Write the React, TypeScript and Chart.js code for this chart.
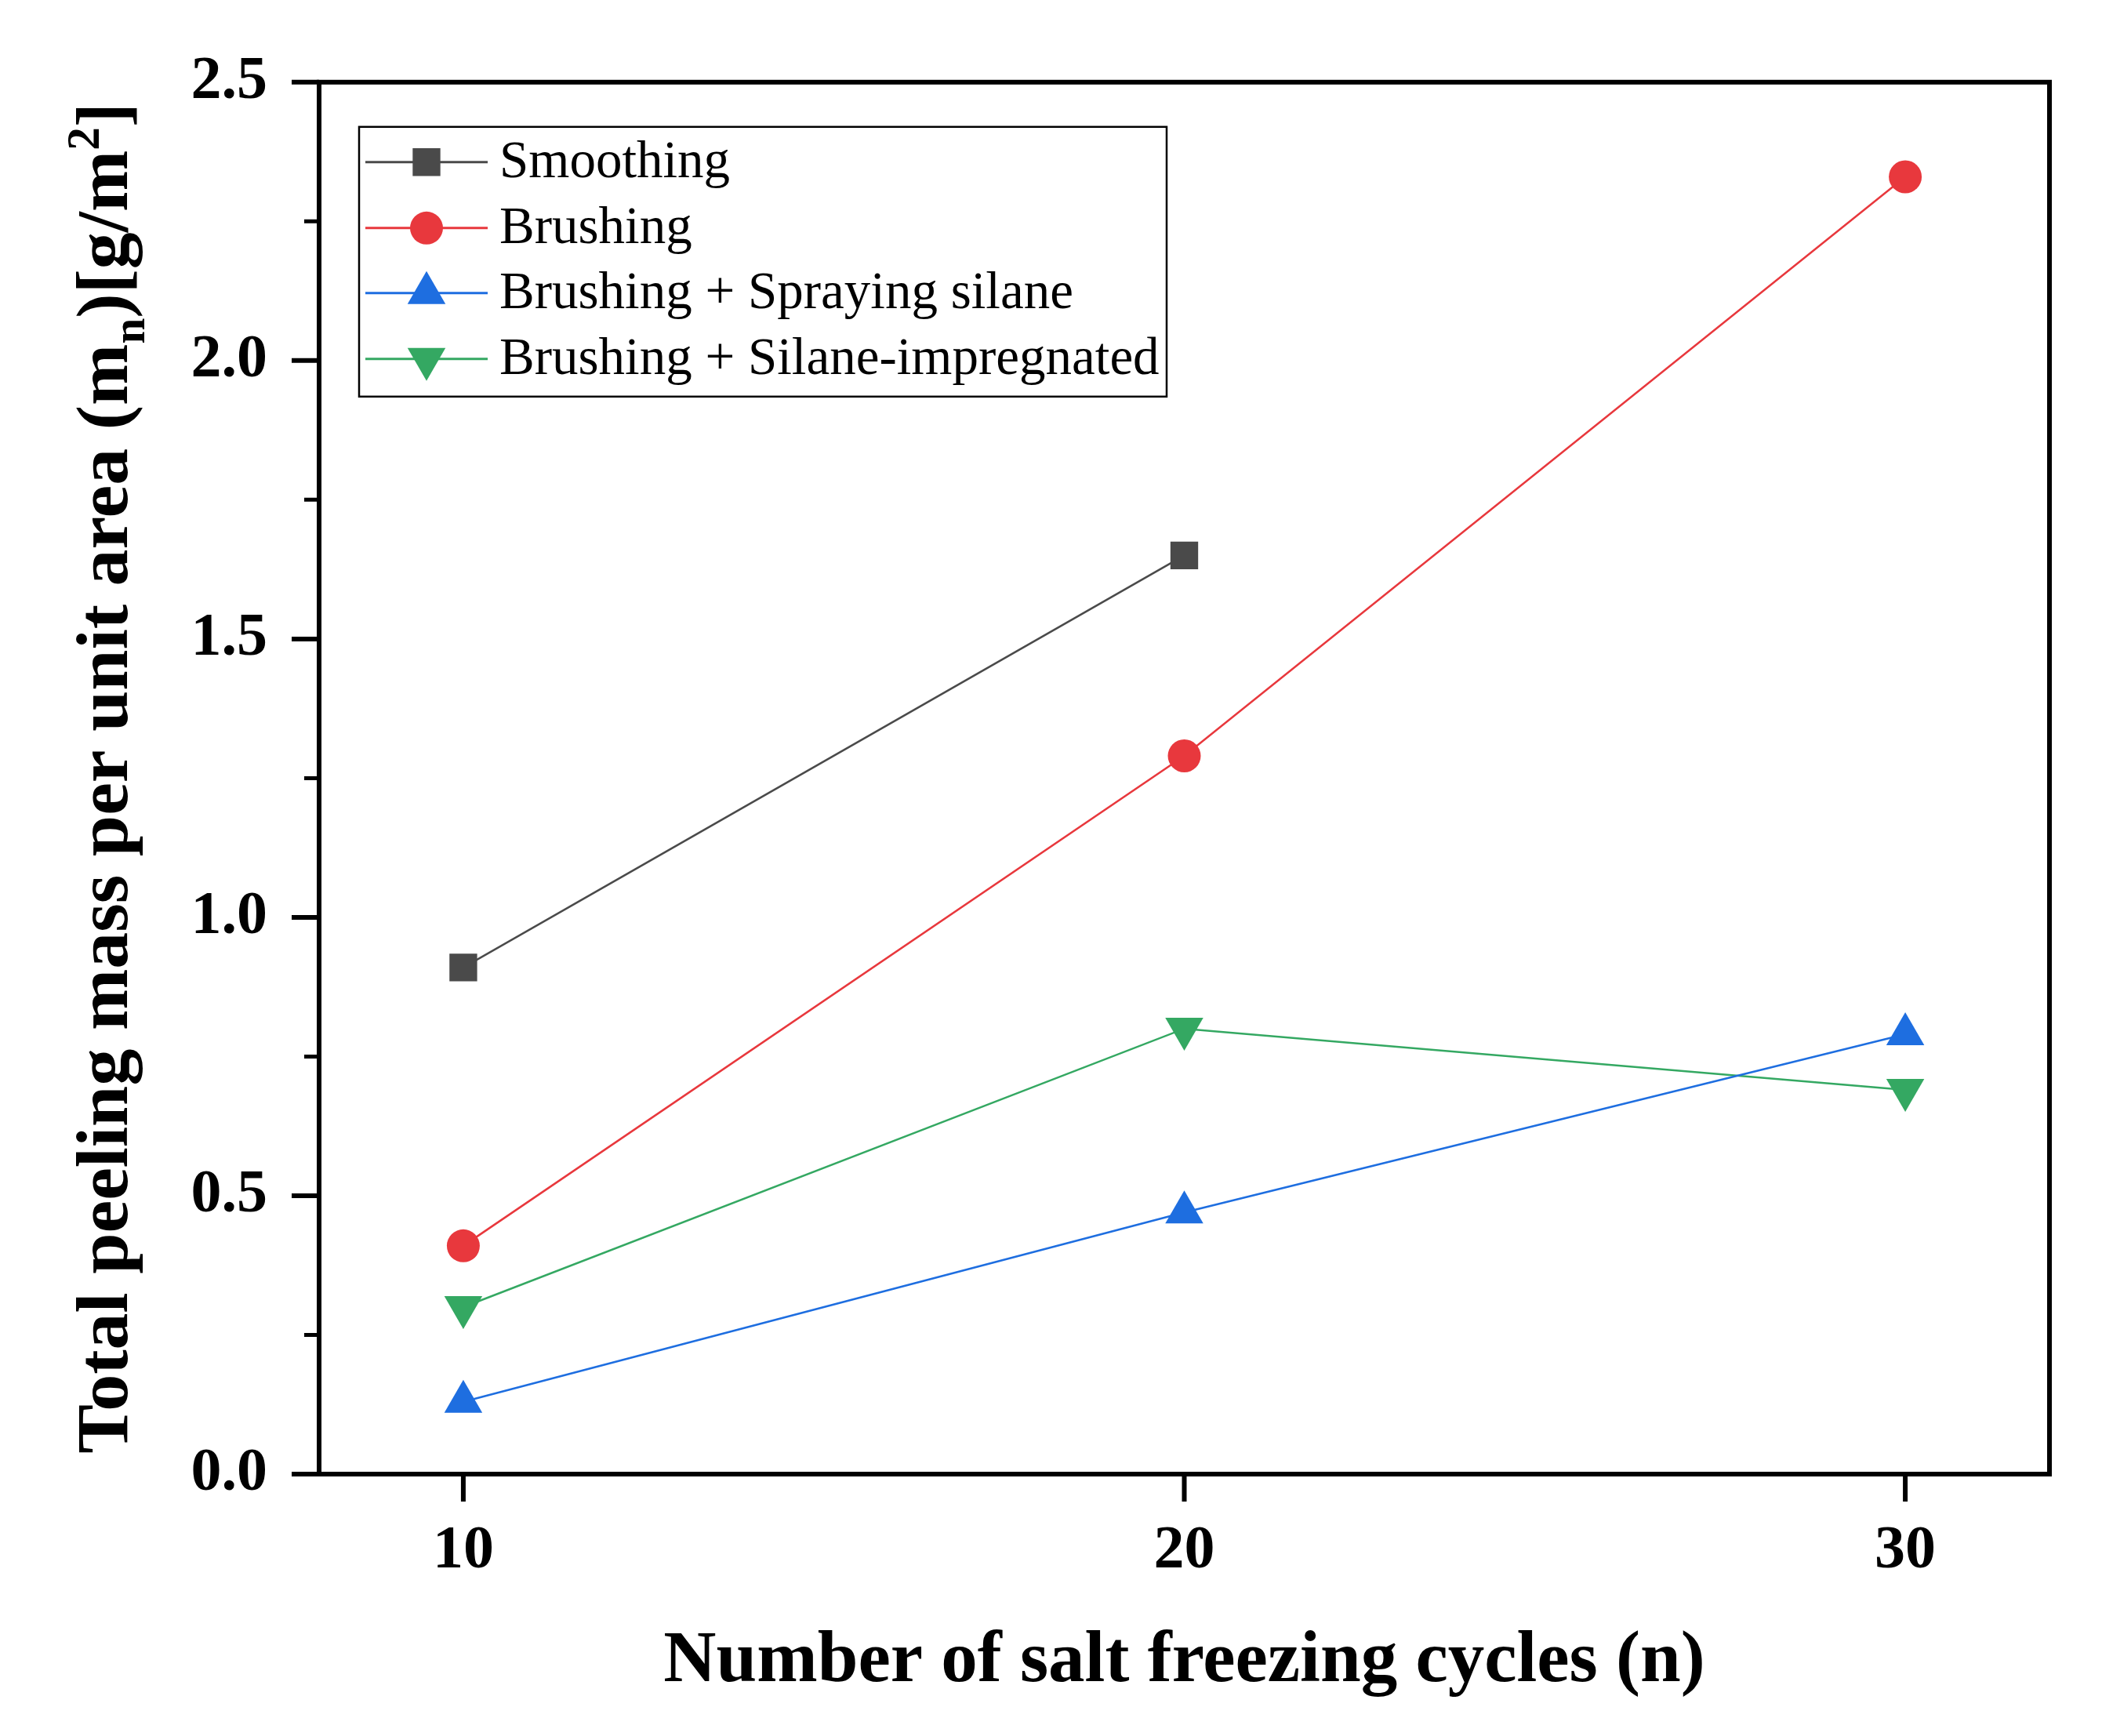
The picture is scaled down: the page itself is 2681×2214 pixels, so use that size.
import React, { useEffect, useRef } from 'react';
import { Chart, registerables } from 'chart.js';

Chart.register(...registerables);

// ---- data ----
const cycles = [10, 20, 30];
const seriesLabels = [
  'Smoothing',
  'Brushing',
  'Brushing + Spraying silane',
  'Brushing + Silane-impregnated',
];
const smoothing: (number | null)[] = [0.91, 1.65, null];
const brushing: (number | null)[] = [0.41, 1.29, 2.33];
const sprayingSilane: (number | null)[] = [0.13, 0.47, 0.79];
const silaneImpregnated: (number | null)[] = [0.3, 0.8, 0.69];

const xTickValues = [10, 20, 30];
const yMajorTicks = [0, 0.5, 1.0, 1.5, 2.0, 2.5];
const yMinorTicks = [0.25, 0.75, 1.25, 1.75, 2.25];

const xTitle = 'Number of salt freezing cycles (n)';
const yTitleParts = [
  { text: 'Total peeling mass per unit area (m', kind: 'normal' },
  { text: 'n', kind: 'sub' },
  { text: ')[g/m', kind: 'normal' },
  { text: '2', kind: 'sup' },
  { text: ']', kind: 'normal' },
];

// ---- styles ----
const SERIF = "'Liberation Serif', 'Times New Roman', 'DejaVu Serif', serif";
const seriesColors = ['#4a4a4a', '#e8383d', '#1e6ee0', '#34a862'];
const seriesStyles = ['rect', 'circle', 'triangle', 'triangle'];
const seriesRotation = [0, 0, 0, 180];
const seriesRadius = [25, 21, 28, 28];

function drawMarker(
  ctx: CanvasRenderingContext2D,
  style: string,
  x: number,
  y: number,
  r: number,
  rotationDeg: number,
  color: string
) {
  ctx.save();
  ctx.fillStyle = color;
  ctx.beginPath();
  if (style === 'circle') {
    ctx.arc(x, y, r, 0, Math.PI * 2);
  } else if (style === 'rect') {
    const s = Math.SQRT1_2 * r;
    ctx.rect(x - s, y - s, 2 * s, 2 * s);
  } else {
    let rad = (rotationDeg * Math.PI) / 180;
    const step = (2 * Math.PI) / 3;
    ctx.moveTo(x + Math.sin(rad) * r, y - Math.cos(rad) * r);
    rad += step;
    ctx.lineTo(x + Math.sin(rad) * r, y - Math.cos(rad) * r);
    rad += step;
    ctx.lineTo(x + Math.sin(rad) * r, y - Math.cos(rad) * r);
    ctx.closePath();
  }
  ctx.fill();
  ctx.restore();
}

const framePlugin = {
  id: 'originFrame',
  afterDraw(chart: any) {
    const { ctx, chartArea: ca, scales } = chart;
    const xs = scales.x;
    const ys = scales.y;
    ctx.save();
    ctx.strokeStyle = '#000';
    ctx.lineCap = 'butt';

    // major ticks
    ctx.lineWidth = 6;
    ctx.beginPath();
    yMajorTicks.forEach((v) => {
      const py = ys.getPixelForValue(v);
      ctx.moveTo(ca.left, py);
      ctx.lineTo(ca.left - 35, py);
    });
    xTickValues.forEach((v) => {
      const px = xs.getPixelForValue(v);
      ctx.moveTo(px, ca.bottom);
      ctx.lineTo(px, ca.bottom + 35);
    });
    ctx.stroke();

    // minor ticks
    ctx.lineWidth = 5;
    ctx.beginPath();
    yMinorTicks.forEach((v) => {
      const py = ys.getPixelForValue(v);
      ctx.moveTo(ca.left, py);
      ctx.lineTo(ca.left - 19, py);
    });
    ctx.stroke();

    // frame
    ctx.lineWidth = 6;
    ctx.lineJoin = 'miter';
    ctx.strokeRect(ca.left, ca.top, ca.right - ca.left, ca.bottom - ca.top);

    // x title
    ctx.fillStyle = '#000';
    ctx.font = `bold 93px ${SERIF}`;
    ctx.textAlign = 'center';
    ctx.textBaseline = 'alphabetic';
    ctx.fillText(xTitle, (ca.left + ca.right) / 2, ca.bottom + 264);

    // y title with sub/superscript
    ctx.save();
    ctx.translate(ca.left - 245, (ca.top + ca.bottom) / 2);
    ctx.rotate(-Math.PI / 2);
    const mainFont = `bold 94px ${SERIF}`;
    const smallFont = `bold 59px ${SERIF}`;
    const widths = yTitleParts.map((p) => {
      ctx.font = p.kind === 'normal' ? mainFont : smallFont;
      return ctx.measureText(p.text).width;
    });
    const total = widths.reduce((a, b) => a + b, 0);
    let cx = -total / 2;
    ctx.textAlign = 'left';
    ctx.textBaseline = 'alphabetic';
    yTitleParts.forEach((p, i) => {
      ctx.font = p.kind === 'normal' ? mainFont : smallFont;
      const dy = p.kind === 'sub' ? 22 : p.kind === 'sup' ? -36 : 0;
      ctx.fillText(p.text, cx, dy);
      cx += widths[i];
    });
    ctx.restore();

    // legend
    const bx = ca.left + 51;
    const by = ca.top + 57;
    const bw = 1030;
    const bh = 344;
    ctx.fillStyle = '#fff';
    ctx.fillRect(bx, by, bw, bh);
    ctx.lineWidth = 2.5;
    ctx.strokeStyle = '#000';
    ctx.strokeRect(bx, by, bw, bh);
    const rowY = [45, 129, 212, 296];
    ctx.font = `67px ${SERIF}`;
    ctx.textAlign = 'left';
    ctx.textBaseline = 'middle';
    seriesLabels.forEach((label, i) => {
      const ry = by + rowY[i];
      ctx.strokeStyle = seriesColors[i];
      ctx.lineWidth = 3;
      ctx.beginPath();
      ctx.moveTo(bx + 8, ry);
      ctx.lineTo(bx + 164, ry);
      ctx.stroke();
      drawMarker(ctx, seriesStyles[i], bx + 86, ry, seriesRadius[i], seriesRotation[i], seriesColors[i]);
      ctx.fillStyle = '#000';
      ctx.fillText(label, bx + 179, ry + 2);
    });

    ctx.restore();
  },
};

export default function App() {
  const canvasRef = useRef<HTMLCanvasElement | null>(null);

  useEffect(() => {
    document.body.style.margin = '0';
    document.body.style.overflow = 'hidden';
    const canvas = canvasRef.current;
    if (!canvas) return;

    const seriesValues = [smoothing, brushing, sprayingSilane, silaneImpregnated];
    const datasets = seriesValues.map((vals, i) => ({
      label: seriesLabels[i],
      data: cycles
        .map((c, j) => ({ x: c, y: vals[j] }))
        .filter((p) => p.y !== null),
      borderColor: seriesColors[i],
      backgroundColor: seriesColors[i],
      borderWidth: 2.5,
      pointStyle: seriesStyles[i],
      pointRotation: seriesRotation[i],
      pointRadius: seriesRadius[i],
      pointBorderWidth: 0,
      pointBackgroundColor: seriesColors[i],
      pointBorderColor: seriesColors[i],
      tension: 0,
      fill: false,
    }));

    const tickFont = { family: SERIF, size: 78, weight: 'bold' as const };

    const chart = new Chart(canvas, {
      type: 'line',
      data: { datasets: datasets as any },
      options: {
        animation: false,
        responsive: false,
        devicePixelRatio: 1,
        layout: { padding: { left: 0, top: 99, right: 67, bottom: 0 } },
        plugins: {
          legend: { display: false },
          tooltip: { enabled: false },
        },
        scales: {
          x: {
            type: 'linear',
            min: 8,
            max: 32,
            afterFit: (s: any) => {
              s.height = 334;
            },
            afterBuildTicks: (s: any) => {
              s.ticks = xTickValues.map((v) => ({ value: v }));
            },
            grid: { display: false },
            border: { display: false },
            ticks: {
              font: tickFont,
              color: '#000',
              padding: 44,
              maxRotation: 0,
              callback: (v: any) => String(v),
            },
          },
          y: {
            type: 'linear',
            min: 0,
            max: 2.5,
            afterFit: (s: any) => {
              s.width = 407;
            },
            grid: { display: false },
            border: { display: false },
            ticks: {
              stepSize: 0.5,
              font: tickFont,
              color: '#000',
              padding: 58,
              callback: (v: any) => Number(v).toFixed(1),
            },
          },
        },
      } as any,
      plugins: [framePlugin],
    });

    return () => {
      chart.destroy();
    };
  }, []);

  return (
    <div style={{ width: 2681, height: 2214, background: '#fff' }}>
      <canvas ref={canvasRef} width={2681} height={2214} style={{ display: 'block' }} />
    </div>
  );
}
